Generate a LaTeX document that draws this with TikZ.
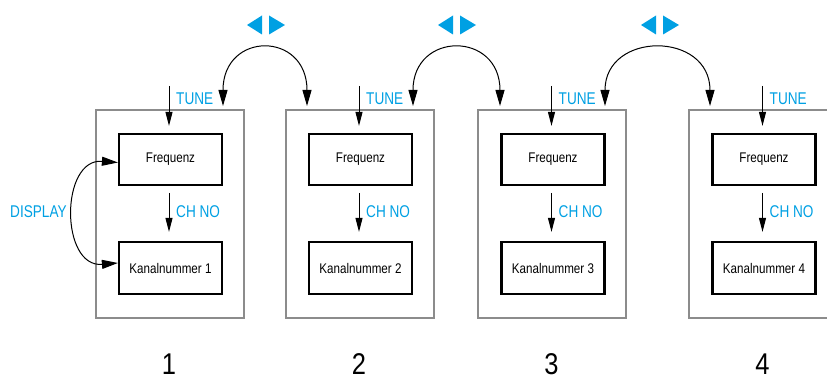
\documentclass[tikz,border=0pt]{standalone}
\usepackage{fontspec}
\setmainfont{Liberation Sans}
\newfontfamily\boxfont[FakeStretch=0.83]{Liberation Sans}
\newfontfamily\bluefont[FakeStretch=0.8]{Liberation Sans}
\newfontfamily\numfont[FakeStretch=0.85]{Liberation Sans}
\usetikzlibrary{arrows.meta,calc}
\definecolor{tuneblue}{RGB}{0,160,227}
\definecolor{framegray}{RGB}{140,140,140}
\tikzset{
  outerbox/.style={draw=framegray, line width=1.2pt},
  innerbox/.style={draw=black, line width=2.2pt, minimum width=103pt, minimum height=51pt, inner sep=0pt,
    font=\boxfont\fontsize{14pt}{16pt}\selectfont},
  downarrow/.style={draw=black, line width=1pt, -{Triangle[length=14pt,width=7pt]}},
  swaparrow/.style={draw=black, line width=1pt, {Triangle[length=16pt,width=9pt]}-{Triangle[length=16pt,width=9pt]}},
  bluelabel/.style={text=tuneblue, inner sep=0pt, anchor=west, font=\bluefont\fontsize{17pt}{19pt}\selectfont},
  numlabel/.style={inner sep=0pt, font=\numfont\fontsize{30pt}{32pt}\selectfont},
  bluetri/.style={fill=tuneblue, draw=none}
}
\begin{document}
\begin{tikzpicture}[x=1pt, y=-1pt]
\useasboundingbox (0,0) rectangle (827,379);
% outer frames
\draw[outerbox] (96,110) rectangle (244,318);
\draw[outerbox] (286,110) rectangle (434,318);
\draw[outerbox] (478,110) rectangle (626,318);
\draw[outerbox] (830,110) -- (689,110) -- (689,318) -- (830,318);
% panels
\foreach \i/\cx in {1/170.5, 2/360.5, 3/553, 4/764} {
  \node[innerbox] (f\i) at (\cx,159.5) {Frequenz};
  \node[innerbox, minimum height=52pt] (k\i) at (\cx,268) {Kanalnummer \i};
  \coordinate (tu\i) at (\cx-1.5,86);
  \draw[downarrow, shorten >=7pt] (tu\i) -- (tu\i |- f\i.north);
  \node[bluelabel] (tl\i) at (\cx+5.5,98.5) {TUNE};
  \coordinate (cs\i) at (\cx-1.5,186);
  \draw[downarrow, shorten <=7pt, shorten >=9pt] (cs\i) -- (cs\i |- k\i.north);
  \node[bluelabel] (cl\i) at (\cx+5.5,212) {CH NO};
  \node[numlabel] (n\i) at (\cx-1.5,364.5) {\i};
}
% DISPLAY
\coordinate (d1) at ($(f1.west)+(0,3)$);
\coordinate (d2) at ($(k1.west)+(0,-5)$);
\draw[swaparrow] (d1) .. controls (60,158) and (60,268) .. (d2);
\node[bluelabel] (disp) at (10,212) {DISPLAY};
% swap arcs between panels
\coordinate (a1) at (223,106); \coordinate (b1) at (307,106);
\coordinate (a2) at (413,106); \coordinate (b2) at (500,106);
\coordinate (a3) at (605,106); \coordinate (b3) at (710,106);
\foreach \j in {1,2,3} {
  \draw[swaparrow] (a\j) .. controls ($(a\j)+(0,-75)$) and ($(b\j)+(0,-75)$) .. (b\j);
}
% blue triangles
\foreach \m in {266, 457, 660} {
  \fill[bluetri] (\m-19,25) -- (\m-4,15.5) -- (\m-4,34.5) -- cycle;
  \fill[bluetri] (\m+3,15.5) -- (\m+19,25) -- (\m+3,34.5) -- cycle;
}
\end{tikzpicture}
\end{document}
